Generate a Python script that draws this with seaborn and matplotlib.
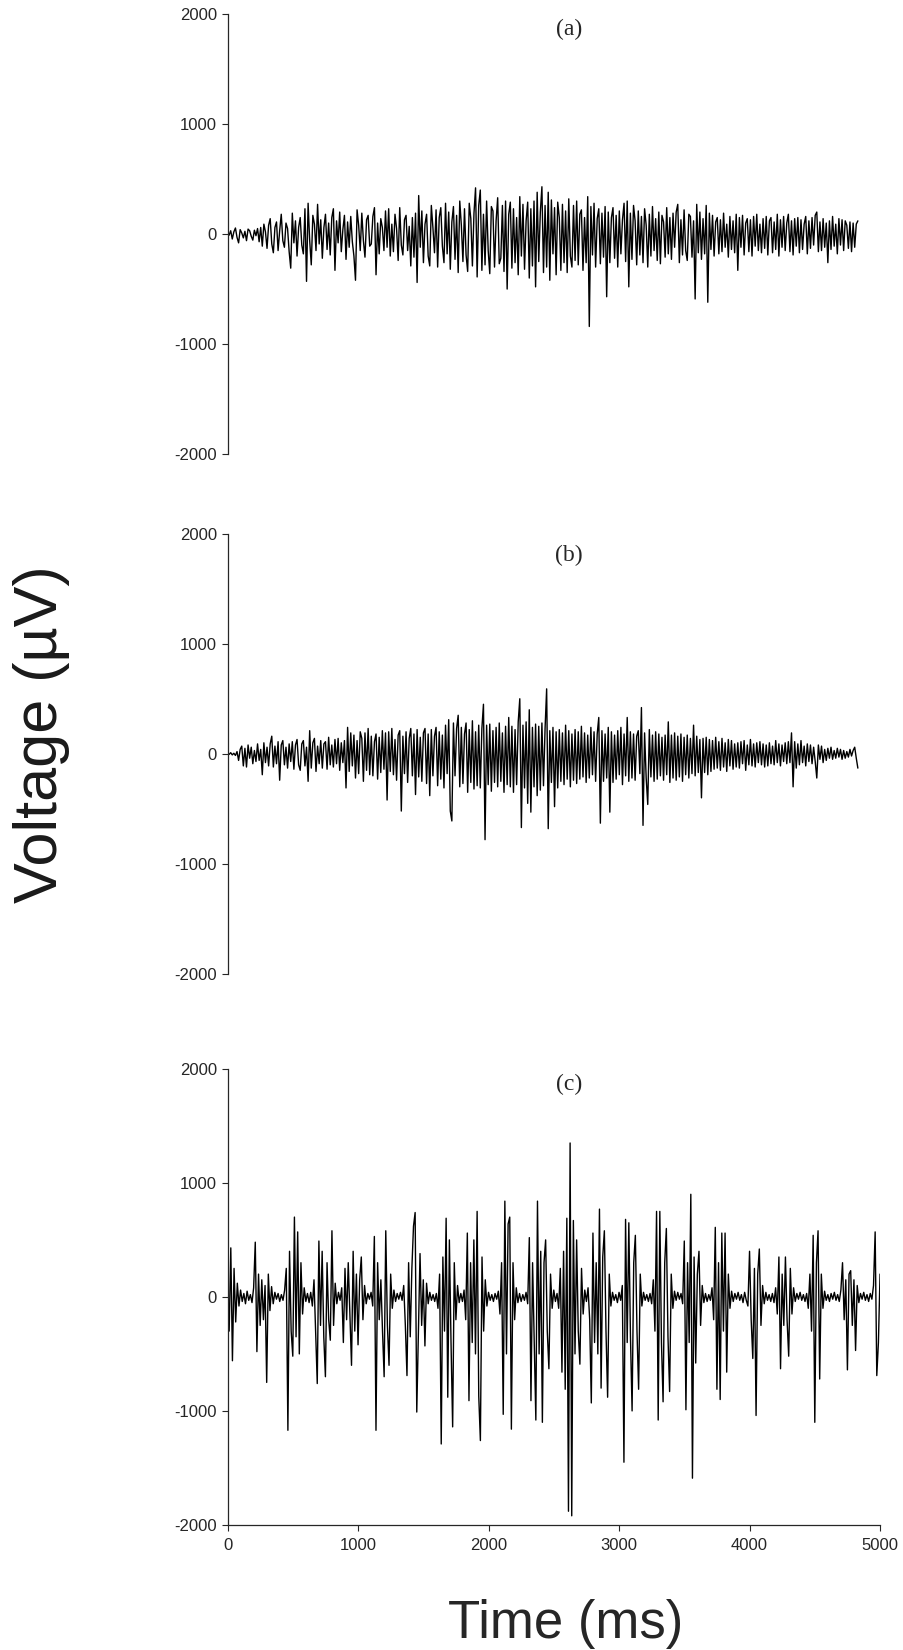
import numpy as np
import matplotlib.pyplot as plt
import seaborn as sns

sns.set_style("ticks")
plt.rcParams['font.family'] = ['Liberation Sans', 'DejaVu Sans']

# recording length of each trace (ms)
a_duration = 4830
b_duration = 4830
c_duration = 5000

# (a) voltage samples, uV (~12 ms apart)
a_uv = [
    15, -10, 30, -45, 20, 55, -30, -80, 40, 10, -35, 25, -60, 45, 30, -20, -55, 35, -15, 50,
    -70, 60, -110, 90, 20, -130, 80, 140, -90, -170, 60, 110, -150, 30, 180, -60, -120, 100, 50, -160,
    -310, 190, -80, 120, -200, 60, 150, -100, -180, 230, -430, 280, -60, -280, 170, 90, -150, 270, -90, 130,
    -220, 60, 180, -140, 100, -190, 150, 230, -330, 120, -80, 200, -160, 40, 170, -230, 110, -120, 160, -70,
    -200, -420, 220, 80, -150, 190, -60, -210, 130, 170, -110, -90, 160, 240, -370, 100, -180, 140, 60, -150,
    210, -120, 230, -200, 90, -160, 180, 50, -240, 240, -100, -190, 130, 170, -150, 70, -290, 150, -210, 190,
    -440, 350, -120, 210, -260, 90, 180, -200, -290, 260, 60, -170, 220, -300, 150, 240, -110, -260, 280, -180,
    200, -320, 110, 250, -230, 170, -350, 300, 80, -250, 230, -190, -340, 280, 140, -290, 190, 420, -390, 260,
    400, -330, 180, -280, 300, -150, -360, 250, 210, -300, 120, 330, -270, -220, 260, -340, 300, -500, 180, 290,
    -310, 230, -260, 150, -370, 340, -200, 270, -320, 120, 290, -400, 230, -290, 300, -480, 380, -250, 200, 430,
    -350, 260, -300, 380, -420, 310, -180, 240, -370, 290, 150, -330, 270, -260, 210, -350, 320, -200, -300, 260,
    -240, 300, -280, 180, 220, -330, 150, -260, 340, -840, 250, -190, 280, -300, 140, 230, -270, 190, -210, 250,
    -570, 200, -260, 150, 240, -220, 170, -300, 210, -180, 130, 280, -250, 300, -480, 190, -230, 260, 120, -280,
    210, -190, 160, -260, 230, 80, -300, 180, -200, 250, -150, 140, -240, 200, -270, 170, 110, -210, 240, -180,
    150, -230, 190, -120, 200, 270, -260, 130, -190, 220, -150, -240, 180, 160, -210, 120, -590, 270, -170, 200,
    -230, 140, -180, 260, -620, 190, -140, 170, -200, 110, 150, -180, 130, -160, 190, -120, 90, -210, 160, -140,
    120, -170, 180, -330, 150, -120, 170, -190, 100, 140, -160, 130, -200, 160, -110, 180, -150, 90, -170, 140,
    -130, 160, -190, 120, 150, -170, 110, -140, 180, -200, 130, -120, 160, -150, 100, 180, -160, 120, -190, 140,
    -110, 150, -170, 130, -140, 90, 160, -180, 120, -130, 150, -100, 170, 200, -160, 110, -150, 140, -120, 100,
    -260, 120, -140, 160, -110, 90, -180, 140, -100, 130, -150, 120, 80, -130, 110, -160, 100, -120, 90, 120,
]

# (b) voltage samples, uV
b_uv = [
    0, -5, 10, -10, 5, -15, 20, -60, 40, 70, -110, 50, -120, 80, -40, 60, -90, 30, -70, 90,
    -60, 40, -190, 100, -80, 60, -110, 90, 160, -120, 70, -90, 110, -240, 80, 120, -100, 60, -130, 90,
    -70, 110, -140, 80, 130, -100, -150, 90, 120, -110, 60, -250, 210, -130, 100, 140, -160, 70, -90, 120,
    -130, 90, 110, -140, 150, -100, 80, -120, 130, -90, 140, -150, 100, -80, 120, -310, 240, -160, 190, -110,
    170, -220, 120, -180, 200, 140, -250, 190, -150, 230, -190, 160, -200, 110, 180, -230, 150, -170, 210, -140,
    190, -420, 200, -160, 230, -190, 130, -240, 170, 210, -520, 160, -180, 200, -260, 140, 230, -200, 180, -370,
    220, -210, 150, -250, 190, 230, -270, 180, -380, 220, -200, 160, 240, -290, 200, -230, 170, -310, 260, -180,
    310, -520, -610, 280, -200, 230, 350, -300, 240, -270, 180, 280, -350, 220, -260, 300, -320, 200, -290, 260,
    -310, 230, 450, -780, 260, -280, 270, -340, 210, -260, 240, -300, 280, -250, 190, -350, 250, -280, 330, -300,
    250, -350, 220, -280, 290, 500, -670, 260, -310, 290, -450, 400, -530, 240, -300, 270, -380, 250, -330, 280,
    -290, 230, 590, -680, 210, -260, 240, -480, 200, -310, 220, -250, 190, -280, 260, -230, 210, -300, 180, -240,
    220, -270, 200, -230, 250, -210, 190, -260, 170, -220, 240, -190, 200, -250, 180, 330, -630, 210, -250, 180,
    -220, 240, -530, 200, -260, 170, -230, 210, -190, 240, -280, 180, -200, 330, -250, 200, -220, 180, -240, 160,
    210, -180, 420, -650, 190, -220, -460, 220, -210, 170, -250, 200, -230, 180, -200, 150, -240, 170, -190, 290,
    -260, 170, -220, 190, -240, 160, -210, 180, -250, 150, -190, 170, -220, 140, -180, 260, -200, 160, -170, 130,
    -400, 140, -170, 150, -190, 130, -160, 120, -140, 150, -130, 110, -150, 140, -120, 100, -160, 130, -110, 120,
    -140, 90, -120, 100, -130, 110, -90, 120, -150, 80, -100, 130, -110, 90, -120, 100, -80, 110, -100, 90,
    -120, 80, -110, 100, -90, 70, -100, 120, -80, 90, -110, 80, -70, 100, -90, 110, -80, 190, -300, 110,
    -130, 90, -100, 120, -80, 70, -110, 90, -70, 80, -90, 60, -70, -220, 80, -50, 70, -80, 40, -60,
    50, -40, 60, -50, 30, -40, 50, -30, 40, -50, 30, -40, 20, -30, 40, -20, 30, 60, -40, -130,
]

# (c) voltage samples, uV (~12.5 ms apart, bursty)
c_uv = [
    100, -300, 430, -560, 250, -220, 120, -80, 60, -40, 30, -60, 50, -30, 20, -50, 80, 480, -480, 200,
    -250, 150, -200, 100, -750, 200, -120, 90, -60, 40, -20, 30, -40, 20, -30, 60, 250, -1170, 400, -300,
    -520, 700, -350, 570, -500, 300, -150, 80, -40, 30, -50, 40, -80, 150, -300, -760, 490, -250, 400, -350,
    -700, 300, -200, -380, 580, -250, 120, -60, 40, -30, 80, -400, 250, -200, 300, -150, -600, 400, -300, 200,
    -420, 150, 350, -200, 100, -60, 30, -20, 40, -80, 530, -1170, 300, -200, 150, -300, -700, 580, -250, -600,
    200, -100, 60, -40, 30, -20, 40, -30, 100, -250, -690, 300, -350, 250, 620, 740, -1010, -300, 380, -250,
    150, -430, 120, -60, 40, -30, 20, -40, 30, -100, 200, -1290, 350, -300, 690, -880, 500, -400, -1140, 300,
    -200, 100, -50, 30, -40, 60, -200, 560, -910, 300, -400, 500, -500, 750, -870, -1260, 350, -300, 150, -80,
    40, -30, 20, -40, 30, -20, 50, -150, 300, -1030, 840, -500, 640, 700, -1160, 300, -200, 80, -50, 30,
    -40, 20, -30, 40, -60, 520, -910, 300, -400, -1080, 840, -500, 400, -1100, 300, 500, -300, -630, 200, -100,
    60, -40, 30, -100, 250, -660, 400, -810, 690, -1880, 1350, -1920, 670, -500, 500, -300, -590, 250, -150, 60,
    -40, 80, -200, -930, 560, -400, 300, -500, 770, -800, 350, 580, -300, -880, 200, -80, 40, -30, 20, -50,
    40, -30, 100, -1450, 680, -400, 650, -350, -1000, 300, 540, -300, -810, 200, -80, 40, -30, 20, -40, 30,
    -60, 150, -300, 750, -1080, 750, -400, -920, 300, 600, -350, -830, 200, -100, 50, -30, 40, -20, 30, -60,
    490, -990, 300, -400, 900, -1590, 350, -580, 200, 400, -250, 100, -50, 30, -40, 20, -30, 80, -200, 610,
    -810, 300, -900, 560, -300, 560, -660, 200, -100, 50, -40, 30, -20, 40, -30, 20, -50, 40, -30, -80,
    400, -200, -540, 250, -1040, 200, 420, -250, 100, -60, 40, -30, 20, -40, 30, -50, 80, -150, 350, -630,
    200, -250, 350, -200, -520, 250, -150, 80, -40, 30, -20, 40, -30, 20, -40, 30, -100, 200, -300, 540,
    -1100, 300, 580, -720, 200, -100, 50, -30, 20, -40, 30, -20, 40, -30, 20, -40, 60, 300, -200, 150,
    -640, 200, 230, -250, 150, -470, 100, -50, 30, -20, 40, -30, 20, -40, 30, -20, 100, 570, -690, -400,
    200,
]

panel_labels = ["(a)", "(b)", "(c)"]
yticks = [-2000, -1000, 0, 1000, 2000]
xticks = [0, 1000, 2000, 3000, 4000, 5000]

traces = [(a_uv, a_duration), (b_uv, b_duration), (c_uv, c_duration)]

fig = plt.figure(figsize=(9.04, 16.5), dpi=100)

# axes boxes (left, bottom, width, height) in figure fractions
boxes = [
    [0.2517, 0.7248, 0.7218, 0.2667],
    [0.2517, 0.4097, 0.7218, 0.2669],
    [0.2517, 0.0758, 0.7218, 0.2764],
]
label_y = [0.965, 0.95, 0.965]

for i, ((vals, dur), box) in enumerate(zip(traces, boxes)):
    ax = fig.add_axes(box)
    t = np.linspace(0, dur, len(vals))
    sns.lineplot(x=t, y=vals, ax=ax, color='black', linewidth=1.0,
                 estimator=None, sort=False)
    ax.set_xlim(0, 5000)
    ax.set_ylim(-2000, 2000)
    ax.set_yticks(yticks)
    ax.set_yticklabels([str(v) for v in yticks], fontsize=12)
    ax.tick_params(axis='y', direction='out', length=4.5, width=0.8, pad=3)
    ax.spines['top'].set_visible(False)
    ax.spines['right'].set_visible(False)
    ax.spines['left'].set_linewidth(0.9)
    if i < 2:
        ax.spines['bottom'].set_visible(False)
        ax.set_xticks([])
    else:
        ax.spines['bottom'].set_linewidth(0.9)
        ax.set_xticks(xticks)
        ax.set_xticklabels([str(v) for v in xticks], fontsize=12)
        ax.tick_params(axis='x', direction='out', length=4.5, width=0.8, pad=5)
    ax.set_xlabel("")
    ax.set_ylabel("")
    ax.text(0.523, label_y[i], panel_labels[i], transform=ax.transAxes,
            ha='center', va='center', fontsize=17, family='Liberation Serif')

fig.text(0.046, 0.555, "Voltage (\u00b5V)", rotation=90, ha='center', va='center',
         fontsize=44, color='#1a1a1a')
fig.text(0.626, 0.0073, "Time (ms)", ha='center', va='baseline', fontsize=38)

fig.savefig("out.png", dpi=100)
